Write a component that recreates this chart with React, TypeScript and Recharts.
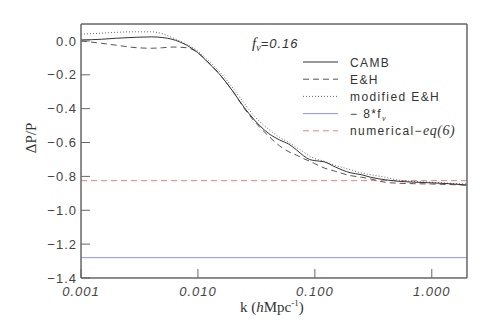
import React from 'react';
import { Line, LineChart, ReferenceLine, XAxis, YAxis } from 'recharts';

// k in h/Mpc and Delta P / P
const K = [
  0.001, 0.0015, 0.002, 0.003, 0.004, 0.005, 0.006, 0.008, 0.01, 0.012, 0.015, 0.02, 0.025, 0.03,
  0.04, 0.05, 0.06, 0.07, 0.08, 0.09, 0.1, 0.12, 0.15, 0.2, 0.25, 0.3, 0.4, 0.5, 0.7, 1.0, 1.4, 2.0,
];
const CAMB = [
  0.006, 0.01, 0.016, 0.022, 0.024, 0.02, 0.01, -0.025, -0.07, -0.122, -0.19, -0.3, -0.395, -0.462,
  -0.545, -0.585, -0.61, -0.645, -0.678, -0.7, -0.707, -0.714, -0.745, -0.778, -0.79, -0.805, -0.82,
  -0.828, -0.834, -0.838, -0.843, -0.851,
];
const EH = [
  0.0, -0.014, -0.025, -0.04, -0.043, -0.04, -0.036, -0.04, -0.07, -0.12, -0.19, -0.3, -0.4, -0.47,
  -0.56, -0.62, -0.655, -0.675, -0.695, -0.71, -0.725, -0.75, -0.77, -0.795, -0.805, -0.815, -0.835,
  -0.84, -0.843, -0.845, -0.848, -0.852,
];
const MOD_EH = [
  0.04, 0.046, 0.051, 0.054, 0.054, 0.042, 0.02, -0.02, -0.06, -0.11, -0.175, -0.28, -0.37, -0.44,
  -0.52, -0.57, -0.6, -0.63, -0.655, -0.68, -0.695, -0.71, -0.735, -0.76, -0.78, -0.79, -0.805, -0.82,
  -0.83, -0.835, -0.84, -0.845,
];
const FNU_LEVEL = -1.28; // -8 * f_nu
const NUMERICAL_LEVEL = -0.825;

const X_MAJOR = [0.001, 0.01, 0.1, 1];
const X_MINOR = [
  0.002, 0.003, 0.004, 0.005, 0.006, 0.007, 0.008, 0.009, 0.02, 0.03, 0.04, 0.05, 0.06, 0.07, 0.08,
  0.09, 0.2, 0.3, 0.4, 0.5, 0.6, 0.7, 0.8, 0.9,
];
const Y_MAJOR = [0, -0.2, -0.4, -0.6, -0.8, -1.0, -1.2, -1.4];
const Y_MINOR = [
  0.05, -0.05, -0.1, -0.15, -0.25, -0.3, -0.35, -0.45, -0.5, -0.55, -0.65, -0.7, -0.75, -0.85, -0.9,
  -0.95, -1.05, -1.1, -1.15, -1.25, -1.3, -1.35,
];

const rows = K.map((k, i) => ({ k, camb: CAMB[i], eh: EH[i], meh: MOD_EH[i] }));

const W = 491;
const H = 327;
const AXIS = '#666';
const INK = '#444';
const BLUE = '#8f8fff';
const RED = '#f08080';
const SANS = '"Liberation Sans", Arial, sans-serif';
const SERIF = '"Liberation Serif", "Times New Roman", serif';
const xDomain = [0.001, 2];
const yDomain = [-1.4, 0.1];
const THIN = 0.01; // recharts skips axes of zero size

const legend = [
  { label: 'CAMB', color: '#333', dash: undefined },
  { label: 'E&H', color: '#555', dash: '6 4' },
  { label: 'modified E&H', color: '#666', dash: '1 2' },
  { label: 'fnu', color: BLUE, dash: undefined },
  { label: 'num', color: RED, dash: '6 4' },
];

export default function App() {
  const tickFont = { fontSize: 13, fill: INK, fontFamily: SANS, letterSpacing: 1 };
  return (
    <div style={{ position: 'fixed', left: 0, top: 0, width: W, height: H, background: '#fff' }}>
      <LineChart width={W} height={H} data={rows} margin={{ top: 24, right: 24, bottom: 49, left: 81 }}>
        <XAxis
          xAxisId="b"
          dataKey="k"
          type="number"
          scale="log"
          domain={xDomain}
          allowDataOverflow
          height={THIN}
          ticks={X_MAJOR}
          interval={0}
          tickSize={-9}
          tickMargin={18}
          stroke={AXIS}
          tick={{ ...tickFont, fontStyle: 'italic' }}
          tickFormatter={(v: number) => v.toFixed(3)}
        />
        <XAxis xAxisId="bm" dataKey="k" type="number" scale="log" domain={xDomain} allowDataOverflow
          height={THIN} ticks={X_MINOR} interval={0} tickSize={-5} tick={false} stroke={AXIS} />
        <XAxis xAxisId="t" orientation="top" dataKey="k" type="number" scale="log" domain={xDomain}
          allowDataOverflow height={THIN} ticks={X_MAJOR} interval={0} tickSize={-9} tick={false} stroke={AXIS} />
        <XAxis xAxisId="tm" orientation="top" dataKey="k" type="number" scale="log" domain={xDomain}
          allowDataOverflow height={THIN} ticks={X_MINOR} interval={0} tickSize={-5} tick={false} stroke={AXIS} />
        <YAxis
          yAxisId="l"
          type="number"
          domain={yDomain}
          allowDataOverflow
          width={THIN}
          ticks={Y_MAJOR}
          interval={0}
          tickSize={-9}
          tickMargin={13}
          stroke={AXIS}
          tick={tickFont}
          tickFormatter={(v: number) => (Math.abs(v) < 1e-9 ? '0.0' : v.toFixed(1).replace('-', '\u2212'))}
        />
        <YAxis yAxisId="lm" type="number" domain={yDomain} allowDataOverflow width={THIN} ticks={Y_MINOR}
          interval={0} tickSize={-5} tick={false} stroke={AXIS} />
        <YAxis yAxisId="r" orientation="right" type="number" domain={yDomain} allowDataOverflow width={THIN}
          ticks={Y_MAJOR} interval={0} tickSize={-9} tick={false} stroke={AXIS} />
        <YAxis yAxisId="rm" orientation="right" type="number" domain={yDomain} allowDataOverflow width={THIN}
          ticks={Y_MINOR} interval={0} tickSize={-5} tick={false} stroke={AXIS} />
        <ReferenceLine xAxisId="b" yAxisId="l" y={NUMERICAL_LEVEL} stroke={RED} strokeDasharray="6 4" />
        <ReferenceLine xAxisId="b" yAxisId="l" y={FNU_LEVEL} stroke={BLUE} />
        <Line xAxisId="b" yAxisId="l" dataKey="eh" type="monotone" stroke="#555" strokeWidth={1}
          strokeDasharray="6 4" dot={false} isAnimationActive={false} />
        <Line xAxisId="b" yAxisId="l" dataKey="meh" type="monotone" stroke="#666" strokeWidth={1}
          strokeDasharray="1 2" dot={false} isAnimationActive={false} />
        <Line xAxisId="b" yAxisId="l" dataKey="camb" type="monotone" stroke="#333" strokeWidth={1}
          dot={false} isAnimationActive={false} />
      </LineChart>
      <svg width={W} height={H} style={{ position: 'absolute', left: 0, top: 0, pointerEvents: 'none' }}>
        <text x={252} y={48} fontSize={15} fill="#333" fontStyle="italic">
          <tspan fontFamily={SERIF}>f</tspan>
          <tspan fontFamily={SERIF} fontSize={10} dy={3}>ν</tspan>
          <tspan fontFamily={SANS} fontSize={13} dy={-3} letterSpacing={1}>=0.16</tspan>
        </text>
        {legend.map((it, i) => {
          const y = 62 + i * 17.2;
          return (
            <g key={it.label}>
              <line x1={303} x2={338} y1={y} y2={y} stroke={it.color} strokeDasharray={it.dash} />
              <text x={350} y={y + 4.5} fontSize={12} fill="#333" fontFamily={SANS} letterSpacing={1.4}>
                {it.label === 'fnu' ? (
                  <>
                    {'\u2212 8*f'}
                    <tspan fontSize={8} dy={3} fontFamily={SERIF} fontStyle="italic">ν</tspan>
                  </>
                ) : it.label === 'num' ? (
                  <>
                    {'numerical\u2212'}
                    <tspan fontFamily={SERIF} fontStyle="italic" fontSize={14} letterSpacing={0.5}>eq(6)</tspan>
                  </>
                ) : (
                  it.label
                )}
              </text>
            </g>
          );
        })}
        <text x={240} y={312} fontSize={15} fill="#333" fontFamily={SERIF}>
          k (<tspan fontStyle="italic">h</tspan>Mpc
          <tspan fontSize={9} dy={-6}>-1</tspan>
          <tspan dy={6}>)</tspan>
        </text>
        <text
          x={36}
          y={138}
          fontSize={15}
          fill="#333"
          fontFamily={SERIF}
          textAnchor="middle"
          transform="rotate(-90 36 138)"
        >
          ΔP/P
        </text>
      </svg>
    </div>
  );
}
